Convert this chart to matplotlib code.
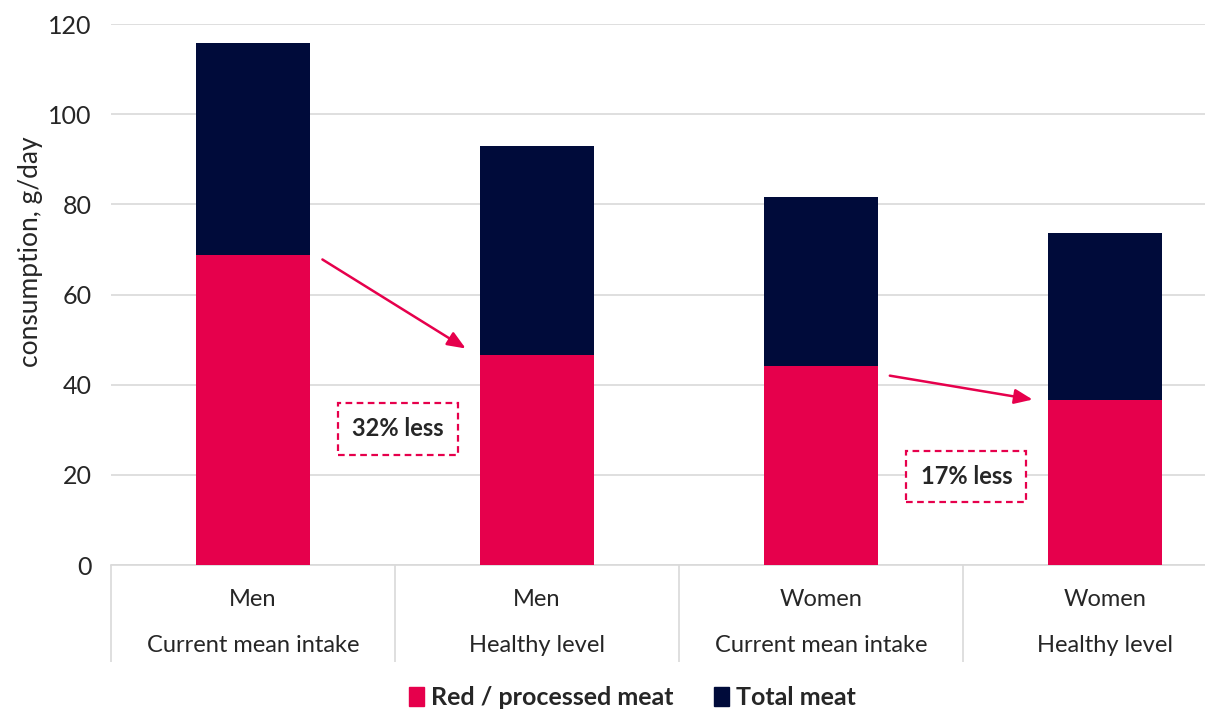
import matplotlib.pyplot as plt
from matplotlib.patches import Patch

# data
groups = ["Men", "Men", "Women", "Women"]
levels = ["Current mean intake", "Healthy level", "Current mean intake", "Healthy level"]
red_meat = [68.8, 46.6, 44.1, 36.6]
total_meat = [115.8, 92.9, 81.6, 73.6]
notes = ["32% less", "17% less"]

red = "#E6004C"
navy = "#000B3A"
txt = "#262626"

plt.rcParams['font.family'] = ['Lato', 'DejaVu Sans']

fig = plt.figure(figsize=(12.05, 7.09), dpi=100)
ax = fig.add_axes([0.0921, 0.2031, 0.943, 0.763])

x = list(range(len(groups)))
rest = [t - r for t, r in zip(total_meat, red_meat)]
ax.bar(x, red_meat, width=0.4, color=red, zorder=3)
ax.bar(x, rest, bottom=red_meat, width=0.4, color=navy, zorder=3)

ax.set_xlim(-0.5, 3.5)
ax.set_ylim(0, 120)
ax.set_yticks(range(0, 121, 20))
ax.yaxis.grid(True, color="#d9d9d9", linewidth=1.2, zorder=0)
for s in ["left", "right", "top"]:
    ax.spines[s].set_visible(False)
ax.spines["bottom"].set_color("#d9d9d9")
ax.spines["bottom"].set_linewidth(1.2)
ax.tick_params(axis="y", length=0, labelsize=18, colors=txt, pad=14)

ax.set_xticks(x)
ax.set_xticklabels([g + "\n\n" + l for g, l in zip(groups, levels)],
                   fontsize=17, color=txt, linespacing=1.13)
ax.tick_params(axis="x", which="major", length=0, pad=17)
ax.set_xticks([-0.5, 0.5, 1.5, 2.5], minor=True)
ax.tick_params(axis="x", which="minor", length=70, color="#d9d9d9", width=1.2)

ax.set_ylabel("consumption, g/day", fontsize=19, color=txt)
ax.yaxis.set_label_coords(-0.06, 0.58)

# arrows showing the reduction
arrows = [((0.236, 68.1), (0.757, 47.7)), ((2.232, 42.1), (2.754, 36.6))]
for (x0, y0), (x1, y1) in arrows:
    ax.annotate("", xy=(x1, y1), xytext=(x0, y0),
                arrowprops=dict(arrowstyle="-|>,head_length=1.1,head_width=0.45",
                                color=red, lw=1.8), zorder=5)

box_pos = [(0.511, 30.2), (2.511, 19.6)]
for (bx, by), t in zip(box_pos, notes):
    ax.text(bx, by, t, ha="center", va="center", fontsize=17, fontweight="bold",
            color=txt, zorder=5,
            bbox=dict(boxstyle="square,pad=0.6", facecolor="white",
                      edgecolor=red, linestyle=(0, (3, 2)), linewidth=1.6))

handles = [Patch(color=red, label="Red / processed meat"),
           Patch(color=navy, label="Total meat")]
leg = fig.legend(handles=handles, loc="lower center", bbox_to_anchor=(0.525, -0.032),
                 ncol=2, frameon=False, handlelength=0.6, handleheight=0.8,
                 handletextpad=0.3, columnspacing=1.6, fontsize=18)
for t in leg.get_texts():
    t.set_fontweight("bold")
    t.set_color(txt)

fig.savefig("out.png", dpi=100)
